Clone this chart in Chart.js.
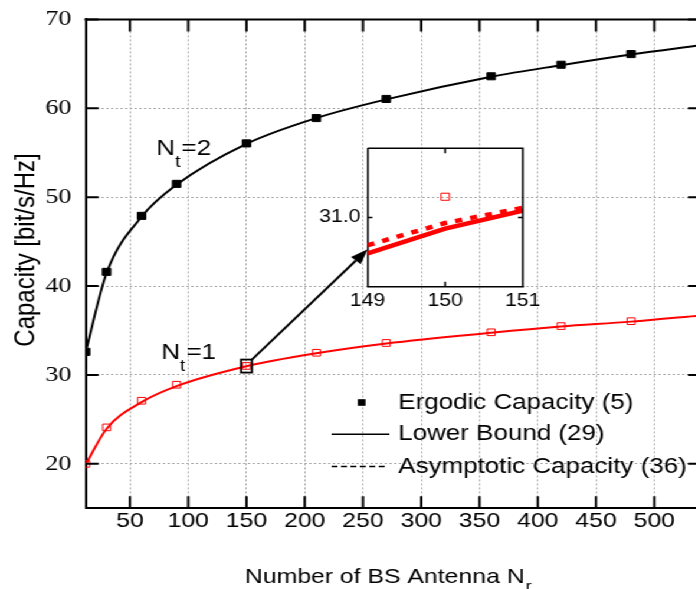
<!DOCTYPE html>
<html><head><meta charset="utf-8">
<script src="https://cdn.jsdelivr.net/npm/chart.js@4.4.0/dist/chart.umd.min.js"></script>
<style>
html,body{margin:0;padding:0;background:#fff;overflow:hidden;width:696px;height:589px;}
#wrap{position:absolute;left:0;top:0;width:600px;height:589px;transform:scaleX(1.18);transform-origin:0 0;}
#main{position:absolute;left:0;top:0;}
#inset{position:absolute;left:250px;top:128px;}
</style></head><body>
<div id="wrap"><canvas id="main" width="600" height="589"></canvas><canvas id="inset" width="230" height="195"></canvas></div>
<script>
// ---- data ----
const xErgodic = [12, 30, 60, 90, 150, 210, 270, 360, 420, 480];
const ergodicNt2 = [32.6, 41.6, 47.9, 51.5, 56.05, 58.9, 61.05, 63.6, 64.9, 66.1];
const ergodicNt1 = [20.0, 24.1, 27.1, 28.9, 31.015, 32.5, 33.6, 34.8, 35.5, 36.05];
const xBound = [12, 30, 60, 90, 150, 210, 270, 360, 420, 480, 540];
const boundNt2 = [32.6, 41.5, 47.8, 51.4, 56.0, 58.9, 61.0, 63.55, 64.85, 66.05, 67.1];
const boundNt1 = [19.95, 23.95, 26.95, 28.75, 30.99, 32.45, 33.55, 34.75, 35.45, 36.0, 36.7];
const xTicks = [50, 100, 150, 200, 250, 300, 350, 400, 450, 500];
const yTicks = [20, 30, 40, 50, 60, 70];
// inset (zoom around Nr = 150, Nt = 1)
const zoomX = [149, 150, 151];
const zoomBound = [30.974, 30.992, 31.005];
const zoomAsymptotic = [30.980, 30.996, 31.007];
const zoomErgodicX = [150];
const zoomErgodic = [31.015];
const zoomXTicks = [149, 150, 151];
const zoomYTicks = [31.0];
const legendLabels = ['Ergodic Capacity (5)', 'Lower Bound (29)', 'Asymptotic Capacity (36)'];

const SANS = "'Liberation Sans', Arial, sans-serif";
const SERIF = "'Liberation Serif', 'Times New Roman', serif";
const RED = '#ff0000';
const pts = (xs, ys) => xs.map((x, i) => ({x: x, y: ys[i]}));

// ---- inset chart ----
const insetDecor = {
  id: 'insetDecor',
  afterDraw(chart) {
    const {ctx, chartArea: a, scales: {x, y}} = chart;
    ctx.save();
    ctx.strokeStyle = '#000';
    ctx.lineWidth = 1.5;
    ctx.beginPath();
    ctx.moveTo(a.left, a.top); ctx.lineTo(a.right, a.top); ctx.lineTo(a.right, a.bottom);
    ctx.stroke();
    ctx.beginPath();
    const px = x.getPixelForValue(150);
    ctx.moveTo(px, a.top); ctx.lineTo(px, a.top + 5);
    ctx.moveTo(px, a.bottom); ctx.lineTo(px, a.bottom - 5);
    zoomYTicks.forEach(v => {
      const py = y.getPixelForValue(v);
      ctx.moveTo(a.left, py); ctx.lineTo(a.left + 4, py);
      ctx.moveTo(a.right, py); ctx.lineTo(a.right - 4, py);
    });
    ctx.stroke();
    ctx.restore();
  }
};

const insetChart = new Chart(document.getElementById('inset'), {
  type: 'scatter',
  data: {datasets: [
    {label: legendLabels[0], data: pts(zoomErgodicX, zoomErgodic), showLine: false,
     pointStyle: 'rect', pointRadius: 5, backgroundColor: 'rgba(0,0,0,0)', borderColor: RED, borderWidth: 1},
    {label: legendLabels[2], data: pts(zoomX, zoomAsymptotic), showLine: true, pointRadius: 0,
     borderColor: RED, borderWidth: 4.5, borderDash: [6, 7]},
    {label: legendLabels[1], data: pts(zoomX, zoomBound), showLine: true, pointRadius: 0,
     borderColor: RED, borderWidth: 4.5}
  ]},
  options: {
    responsive: false, animation: false, devicePixelRatio: 1,
    layout: {padding: {top: 20.3, right: 37, left: 0, bottom: 0}},
    plugins: {legend: {display: false}, tooltip: {enabled: false}},
    scales: {
      x: {type: 'linear', min: 149, max: 151,
          afterBuildTicks: s => { s.ticks = zoomXTicks.map(v => ({value: v})); },
          afterFit: s => { s.height = 36.3; s.paddingLeft = 0; s.paddingRight = 0; },
          grid: {display: false, drawTicks: false},
          border: {color: '#000', width: 1.5},
          ticks: {font: {family: SANS, size: 18}, color: '#000', padding: 4, maxRotation: 0, autoSkip: false,
                  callback: v => String(v)}},
      y: {type: 'linear', min: 30.95, max: 31.05,
          afterBuildTicks: s => { s.ticks = zoomYTicks.map(v => ({value: v})); },
          afterFit: s => { s.width = 61.6; s.paddingTop = 0; s.paddingBottom = 0; },
          grid: {display: false, drawTicks: false},
          border: {color: '#000', width: 1.5},
          ticks: {font: {family: SANS, size: 18}, color: '#000', padding: 6,
                  callback: v => Number(v).toFixed(1)}}
    }
  },
  plugins: [insetDecor]
});

// ---- main chart ----
function drawNt(ctx, x, y, xv, yv, num) {
  const px = x.getPixelForValue(xv), py = y.getPixelForValue(yv);
  ctx.textBaseline = 'alphabetic';
  ctx.textAlign = 'left';
  ctx.font = '22px ' + SANS;
  ctx.fillText('N', px, py);
  const wN = ctx.measureText('N').width;
  ctx.font = '16px ' + SANS;
  ctx.fillText('t', px + wN, py + 12);
  const wt = ctx.measureText('t').width;
  ctx.font = '22px ' + SANS;
  ctx.fillText('=' + num, px + wN + wt + 1, py);
}

const mainDecor = {
  id: 'mainDecor',
  afterDraw(chart) {
    const {ctx, chartArea: a, scales: {x, y}} = chart;
    ctx.save();
    ctx.strokeStyle = '#000';
    ctx.fillStyle = '#000';
    // frame (top / right)
    ctx.lineWidth = 2;
    ctx.beginPath();
    ctx.moveTo(a.left - 1, a.top); ctx.lineTo(a.right, a.top); ctx.lineTo(a.right, a.bottom);
    ctx.stroke();
    // inward tick marks
    ctx.beginPath();
    xTicks.forEach(v => {
      const px = x.getPixelForValue(v);
      ctx.moveTo(px, a.bottom); ctx.lineTo(px, a.bottom - 12);
      ctx.moveTo(px, a.top); ctx.lineTo(px, a.top + 12);
    });
    yTicks.forEach(v => {
      const py = y.getPixelForValue(v);
      ctx.moveTo(a.left, py); ctx.lineTo(a.left + 11, py);
      ctx.moveTo(a.right, py); ctx.lineTo(a.right - 11, py);
    });
    ctx.stroke();

    // Nt labels
    drawNt(ctx, x, y, 72.7, 54.75, 2);
    drawNt(ctx, x, y, 76.9, 31.78, 1);

    // small box around Nr=150 and arrow to the inset
    const bx = x.getPixelForValue(150), by = y.getPixelForValue(31.0);
    ctx.lineWidth = 1.8;
    ctx.strokeRect(bx - 4.6, by - 6.5, 9.2, 13);
    const insetCanvas = document.getElementById('inset');
    const ia = insetChart.chartArea;
    const ex = insetCanvas.offsetLeft + ia.left;
    const ey = insetCanvas.offsetTop + insetChart.scales.y.getPixelForValue(30.977);
    const sx = bx + 4.6, sy = by - 6.5;
    const ang = Math.atan2(ey - sy, ex - sx);
    const hl = 15, hw = 5.5;
    const baseX = ex - hl * Math.cos(ang), baseY = ey - hl * Math.sin(ang);
    ctx.lineWidth = 2;
    ctx.beginPath(); ctx.moveTo(sx, sy); ctx.lineTo(baseX, baseY); ctx.stroke();
    ctx.beginPath();
    ctx.moveTo(ex, ey);
    ctx.lineTo(baseX + hw * Math.sin(ang), baseY - hw * Math.cos(ang));
    ctx.lineTo(baseX - hw * Math.sin(ang), baseY + hw * Math.cos(ang));
    ctx.closePath(); ctx.fill();

    // legend
    ctx.font = '22px ' + SANS;
    ctx.textBaseline = 'middle';
    ctx.textAlign = 'left';
    const lx = 337.5, rows = [402.5, 434.2, 466.5];
    ctx.fillRect(306.5 - 3.3, rows[0] - 3.3, 6.6, 6.6);
    ctx.lineWidth = 1.5;
    ctx.beginPath(); ctx.moveTo(281, rows[1]); ctx.lineTo(330, rows[1]); ctx.stroke();
    ctx.setLineDash([5, 3]);
    ctx.beginPath(); ctx.moveTo(281, rows[2]); ctx.lineTo(326, rows[2]); ctx.stroke();
    ctx.setLineDash([]);
    legendLabels.forEach((t, i) => ctx.fillText(t, lx, rows[i]));

    // axis titles
    ctx.textBaseline = 'alphabetic';
    ctx.font = '21px ' + SANS;
    const xt = 'Number of BS Antenna N';
    ctx.fillText(xt, 207.6, 583.3);
    const w = ctx.measureText(xt).width;
    ctx.font = '15px ' + SANS;
    ctx.fillText('r', 207.6 + w + 1, 591);
    ctx.save();
    ctx.translate(28.5, 250);
    ctx.rotate(-Math.PI / 2);
    ctx.textAlign = 'center';
    ctx.font = '24px ' + SANS;
    ctx.fillText('Capacity [bit/s/Hz]', 0, 0);
    ctx.restore();
    ctx.restore();
  }
};

const mainChart = new Chart(document.getElementById('main'), {
  type: 'scatter',
  data: {datasets: [
    {label: 'Ergodic Capacity (5), Nt=2', data: pts(xErgodic, ergodicNt2), showLine: false,
     pointStyle: 'rect', pointRadius: 5, backgroundColor: '#000', borderColor: '#000', borderWidth: 1},
    {label: 'Ergodic Capacity (5), Nt=1', data: pts(xErgodic, ergodicNt1), showLine: false,
     pointStyle: 'rect', pointRadius: 4.7, backgroundColor: 'rgba(0,0,0,0)', borderColor: RED, borderWidth: 1},
    {label: 'Lower Bound (29), Nt=2', data: pts(xBound, boundNt2), showLine: true, pointRadius: 0,
     borderColor: '#000', borderWidth: 2, cubicInterpolationMode: 'monotone'},
    {label: 'Lower Bound (29), Nt=1', data: pts(xBound, boundNt1), showLine: true, pointRadius: 0,
     borderColor: RED, borderWidth: 2, cubicInterpolationMode: 'monotone'}
  ]},
  options: {
    responsive: false, animation: false, devicePixelRatio: 1,
    layout: {padding: {top: 19.4, right: 1.4, left: 0, bottom: 0}},
    plugins: {legend: {display: false}, tooltip: {enabled: false}},
    scales: {
      x: {type: 'linear', min: 12, max: 540,
          afterBuildTicks: s => { s.ticks = xTicks.map(v => ({value: v})); },
          afterFit: s => { s.height = 80.7; s.paddingLeft = 0; s.paddingRight = 0; },
          grid: {color: '#a8a8a8', lineWidth: 1, drawTicks: false},
          border: {color: '#000', width: 2, dash: [2, 2]},
          ticks: {font: {family: SANS, size: 21}, color: '#000', padding: 0, maxRotation: 0, autoSkip: false}},
      y: {type: 'linear', min: 15, max: 70,
          afterBuildTicks: s => { s.ticks = yTicks.map(v => ({value: v})); },
          afterFit: s => { s.width = 72.6; s.paddingTop = 0; s.paddingBottom = 0; },
          grid: {color: '#a8a8a8', lineWidth: 1, drawTicks: false},
          border: {color: '#000', width: 2, dash: [2, 2]},
          ticks: {font: {family: SERIF, size: 22}, color: '#000', padding: 12}}
    }
  },
  plugins: [mainDecor]
});
</script>
</body></html>
